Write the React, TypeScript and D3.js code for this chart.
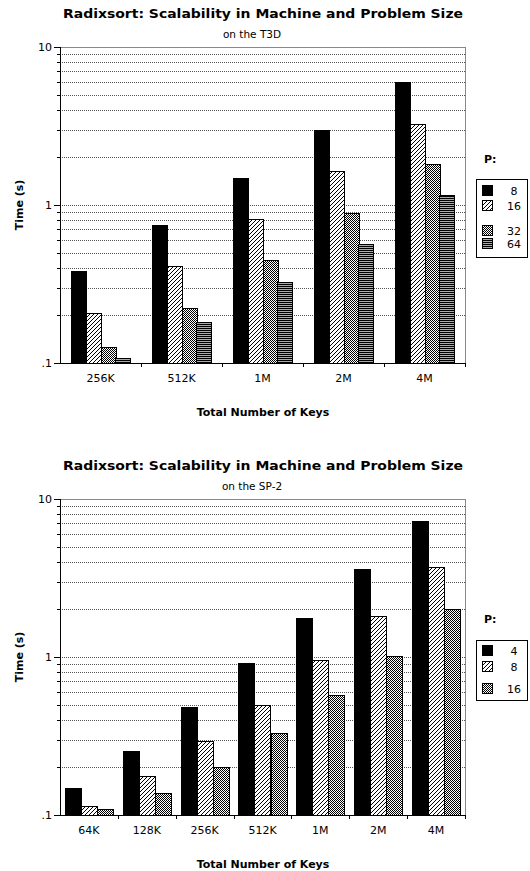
import React from "react";
import * as d3 from "d3";

// chart text
const titleText = "Radixsort: Scalability in Machine and Problem Size";
const xTitle = "Total Number of Keys";
const yTitle = "Time (s)";

// top chart (T3D)
const t3dCategories = ["256K", "512K", "1M", "2M", "4M"];
const t3dProcs = ["8", "16", "32", "64"];
const t3dP8 = [0.384, 0.75, 1.48, 2.98, 5.98];
const t3dP16 = [0.208, 0.411, 0.82, 1.64, 3.24];
const t3dP32 = [0.127, 0.224, 0.449, 0.894, 1.81];
const t3dP64 = [0.1075, 0.181, 0.324, 0.564, 1.16];

// bottom chart (SP-2)
const sp2Categories = ["64K", "128K", "256K", "512K", "1M", "2M", "4M"];
const sp2Procs = ["4", "8", "16"];
const sp2P4 = [0.149, 0.254, 0.483, 0.912, 1.77, 3.61, 7.26];
const sp2P8 = [0.1135, 0.176, 0.294, 0.499, 0.953, 1.82, 3.71];
const sp2P16 = [0.1086, 0.138, 0.202, 0.332, 0.577, 1.02, 2.01];

// y axis
const yMajor = [0.1, 1, 10];
const yMajorLabels = [".1", "1", "10"];
const yMinor = [0.2, 0.3, 0.4, 0.5, 0.6, 0.7, 0.8, 0.9, 2, 3, 4, 5, 6, 7, 8, 9];

const fills = ["#000", "url(#hatch)", "url(#checker)", "url(#stripes)"];
const font = "'DejaVu Sans', Verdana, sans-serif";

type ChartProps = {
  offsetY: number;
  subtitle: string;
  categories: string[];
  procs: string[];
  series: number[][];
  groupFrac: number;
  legendBox: number[]; // x, y, w, h
  legendRows: number[];
  legendTitleY: number;
};

function Chart(props: ChartProps) {
  let left = 60, right = 465, top = 47, bottom = 363;

  //D3 scales
  let y = d3.scaleLog().domain([0.1, 10]).range([bottom, top]);
  let x = d3.scaleBand().domain(props.categories).range([left, right]);
  let groupW = x.bandwidth() * props.groupFrac;
  let inner = d3.scaleBand().domain(props.procs).range([0, groupW]);

  let grid = yMinor.concat([1]).map((v, i) => (
    <line key={i} x1={left} x2={right} y1={Math.round(y(v)) + 0.5} y2={Math.round(y(v)) + 0.5}
      stroke="#555" strokeDasharray="1 1" />
  ));

  let bars: any[] = [];
  props.series.forEach((vals, s) => {
    vals.forEach((v, c) => {
      let bx = Math.round(x(props.categories[c])! + (x.bandwidth() - groupW) / 2 + inner(props.procs[s])!);
      let by = Math.round(y(v));
      bars.push(
        <rect key={s + "-" + c} x={bx + 0.5} y={by + 0.5} width={Math.round(inner.bandwidth())}
          height={bottom - by} fill={fills[s]} stroke="#000" strokeWidth={1} />
      );
    });
  });

  let [lx, ly, lw, lh] = props.legendBox;

  return (
    <g transform={`translate(0,${props.offsetY})`}>
      <text x={263} y={18} textAnchor="middle" fontFamily={font} fontWeight="bold" fontSize={12.5}
        textLength={400} lengthAdjust="spacingAndGlyphs">{titleText}</text>
      <text x={252} y={38} textAnchor="middle" fontFamily={font} fontSize={10.5}>{props.subtitle}</text>

      {grid}
      <line x1={left} x2={right} y1={top + 0.5} y2={top + 0.5} stroke="#888" />
      <line x1={right + 0.5} x2={right + 0.5} y1={top} y2={bottom} stroke="#888" />

      {bars}

      {/* y axis */}
      <line x1={left + 0.5} x2={left + 0.5} y1={top} y2={bottom + 1} stroke="#000" />
      {yMinor.map((v, i) => (
        <line key={i} x1={left - 3} x2={left} y1={Math.round(y(v)) + 0.5} y2={Math.round(y(v)) + 0.5} stroke="#000" />
      ))}
      {yMajor.map((v, i) => (
        <g key={i}>
          <line x1={left - 6} x2={left} y1={Math.round(y(v)) + 0.5} y2={Math.round(y(v)) + 0.5} stroke="#000" />
          <text x={left - 8} y={y(v) + 4} textAnchor="end" fontFamily={font} fontSize={11}>{yMajorLabels[i]}</text>
        </g>
      ))}

      {/* x axis */}
      <line x1={left} x2={right} y1={bottom + 0.5} y2={bottom + 0.5} stroke="#000" />
      {props.categories.map((c, i) => (
        <g key={i}>
          <line x1={Math.round(x(c)! + x.bandwidth()) + 0.5} x2={Math.round(x(c)! + x.bandwidth()) + 0.5}
            y1={bottom} y2={bottom + 4} stroke="#000" />
          <text x={x(c)! + x.bandwidth() / 2} y={bottom + 19} textAnchor="middle" fontFamily={font} fontSize={11}>{c}</text>
        </g>
      ))}

      <text x={263} y={bottom + 53} textAnchor="middle" fontFamily={font} fontWeight="bold" fontSize={11}>{xTitle}</text>
      <text transform={`translate(23,${(top + bottom) / 2}) rotate(-90)`} textAnchor="middle" fontFamily={font}
        fontWeight="bold" fontSize={11}>{yTitle}</text>

      {/* legend */}
      <text x={484} y={props.legendTitleY} fontFamily={font} fontWeight="bold" fontSize={11}>P:</text>
      <rect x={lx + 0.5} y={ly + 0.5} width={lw} height={lh} fill="#fff" stroke="#000" />
      {props.procs.map((p, i) => (
        <g key={i}>
          <rect x={482.5} y={props.legendRows[i] - 5.5} width={10} height={10} fill={fills[i]} stroke="#000" />
          <text x={514} y={props.legendRows[i] + 4} textAnchor="middle" fontFamily={font} fontSize={11}>{p}</text>
        </g>
      ))}
    </g>
  );
}

export default function App() {
  return (
    <svg width={530} height={871} style={{ position: "absolute", left: 0, top: 0, background: "#fff" }}
      shapeRendering="crispEdges">
      <defs>
        <pattern id="hatch" width={4} height={4} patternUnits="userSpaceOnUse">
          <rect width={4} height={4} fill="#fff" />
          <rect x={3} y={0} width={1} height={1} fill="#000" />
          <rect x={2} y={1} width={1} height={1} fill="#000" />
          <rect x={1} y={2} width={1} height={1} fill="#000" />
          <rect x={0} y={3} width={1} height={1} fill="#000" />
        </pattern>
        <pattern id="checker" width={2} height={2} patternUnits="userSpaceOnUse">
          <rect width={2} height={2} fill="#fff" />
          <rect x={0} y={0} width={1} height={1} fill="#000" />
          <rect x={1} y={1} width={1} height={1} fill="#000" />
        </pattern>
        <pattern id="stripes" width={2} height={2} patternUnits="userSpaceOnUse">
          <rect width={2} height={2} fill="#aaa" />
          <rect x={0} y={0} width={2} height={1} fill="#000" />
        </pattern>
      </defs>
      <rect width={530} height={871} fill="#fff" />
      <Chart offsetY={0} subtitle="on the T3D" categories={t3dCategories} procs={t3dProcs}
        series={[t3dP8, t3dP16, t3dP32, t3dP64]} groupFrac={0.73}
        legendBox={[476, 179, 51, 78]} legendRows={[191, 206, 231, 244]} legendTitleY={163} />
      <Chart offsetY={452} subtitle="on the SP-2" categories={sp2Categories} procs={sp2Procs}
        series={[sp2P4, sp2P8, sp2P16]} groupFrac={0.83}
        legendBox={[476, 188, 51, 60]} legendRows={[199, 215, 237]} legendTitleY={171} />
    </svg>
  );
}
